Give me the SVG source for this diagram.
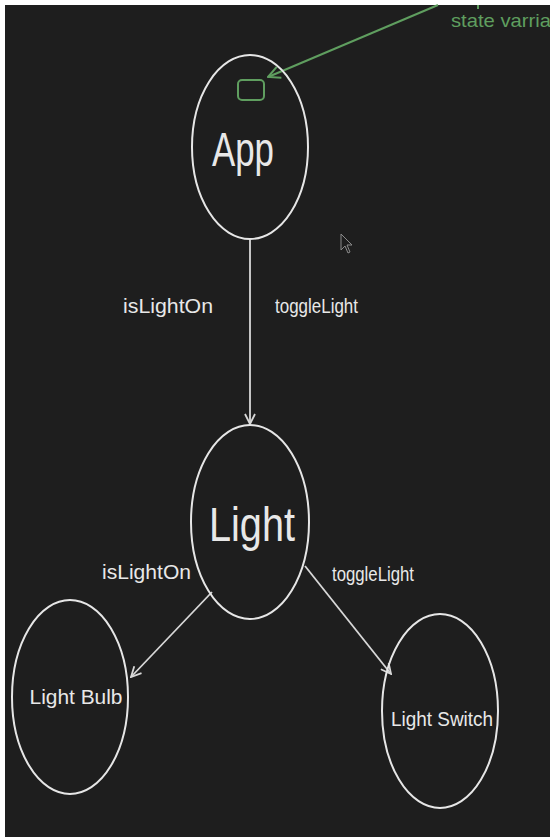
<svg xmlns="http://www.w3.org/2000/svg" width="550" height="837" viewBox="0 0 550 837">
<style>
.node{fill:none;stroke:#e6e6e6;stroke-width:2}
.lbl{fill:#e8e8e8;font-family:"Liberation Sans","DejaVu Sans",sans-serif}
.big{font-size:48px}
.mid{font-size:20px}
.edge{stroke:#d8d8d8;stroke-width:1.8;fill:none}
.green{stroke:#5f9e5f;stroke-width:2;fill:none}
</style>
<defs>
<marker id="ah" viewBox="0 0 12 12" refX="11" refY="6" markerWidth="12" markerHeight="12" markerUnits="userSpaceOnUse" orient="auto">
<path d="M1,1 L11,6 L1,11" fill="none" stroke="#d8d8d8" stroke-width="1.8"/>
</marker>
<marker id="ahg" viewBox="0 0 14 14" refX="13" refY="7" markerWidth="14" markerHeight="14" markerUnits="userSpaceOnUse" orient="auto">
<path d="M1,1 L13,7 L1,13" fill="none" stroke="#5f9e5f" stroke-width="2"/>
</marker>
</defs>
<rect x="0" y="0" width="550" height="837" fill="#ffffff"/>
<rect x="5" y="5" width="545" height="832" fill="#1e1e1e"/>

<g id="annotation">
<line x1="438" y1="5" x2="268" y2="77" class="green" marker-end="url(#ahg)"/>
<line x1="478" y1="5" x2="478" y2="9" class="green"/>
<text x="451" y="27" fill="#5f9e5f" font-family="Liberation Sans, sans-serif" font-size="19" textLength="100" lengthAdjust="spacingAndGlyphs">state varria</text>
</g>

<g id="connectors">
<line x1="250" y1="240" x2="250" y2="424" class="edge" marker-end="url(#ah)"/>
<line x1="212" y1="592" x2="131" y2="677" class="edge" marker-end="url(#ah)"/>
<line x1="305" y1="566" x2="391" y2="674" class="edge" stroke-width="2.4" marker-end="url(#ah)"/>
<text x="123" y="313" class="lbl mid" textLength="90" lengthAdjust="spacingAndGlyphs">isLightOn</text>
<text x="275" y="313" class="lbl mid" textLength="83" lengthAdjust="spacingAndGlyphs">toggleLight</text>
<text x="102" y="579" class="lbl mid" textLength="89" lengthAdjust="spacingAndGlyphs">isLightOn</text>
<text x="332" y="581" class="lbl mid" textLength="82" lengthAdjust="spacingAndGlyphs">toggleLight</text>
</g>

<g id="app">
<ellipse cx="250" cy="147" rx="58" ry="92" class="node"/>
<rect x="238" y="80" width="26" height="20" rx="4" class="green"/>
<text x="243" y="166" text-anchor="middle" class="lbl big" textLength="62" lengthAdjust="spacingAndGlyphs">App</text>
</g>

<g id="light">
<ellipse cx="250" cy="522" rx="59" ry="97" class="node"/>
<text x="252" y="541" text-anchor="middle" class="lbl big" textLength="86" lengthAdjust="spacingAndGlyphs">Light</text>
</g>

<g id="lightbulb">
<ellipse cx="70" cy="697" rx="58" ry="97" class="node"/>
<text x="76" y="704" text-anchor="middle" class="lbl mid" textLength="93" lengthAdjust="spacingAndGlyphs">Light Bulb</text>
</g>

<g id="lightswitch">
<ellipse cx="440" cy="711" rx="58" ry="97" class="node"/>
<text x="442" y="726" text-anchor="middle" class="lbl mid" textLength="102" lengthAdjust="spacingAndGlyphs">Light Switch</text>
</g>

<path d="M341,234 L341,250 L345,246 L348,253 L350,252 L347,245 L352,245 Z" fill="none" stroke="#8a8a8a" stroke-width="1"/>
</svg>
